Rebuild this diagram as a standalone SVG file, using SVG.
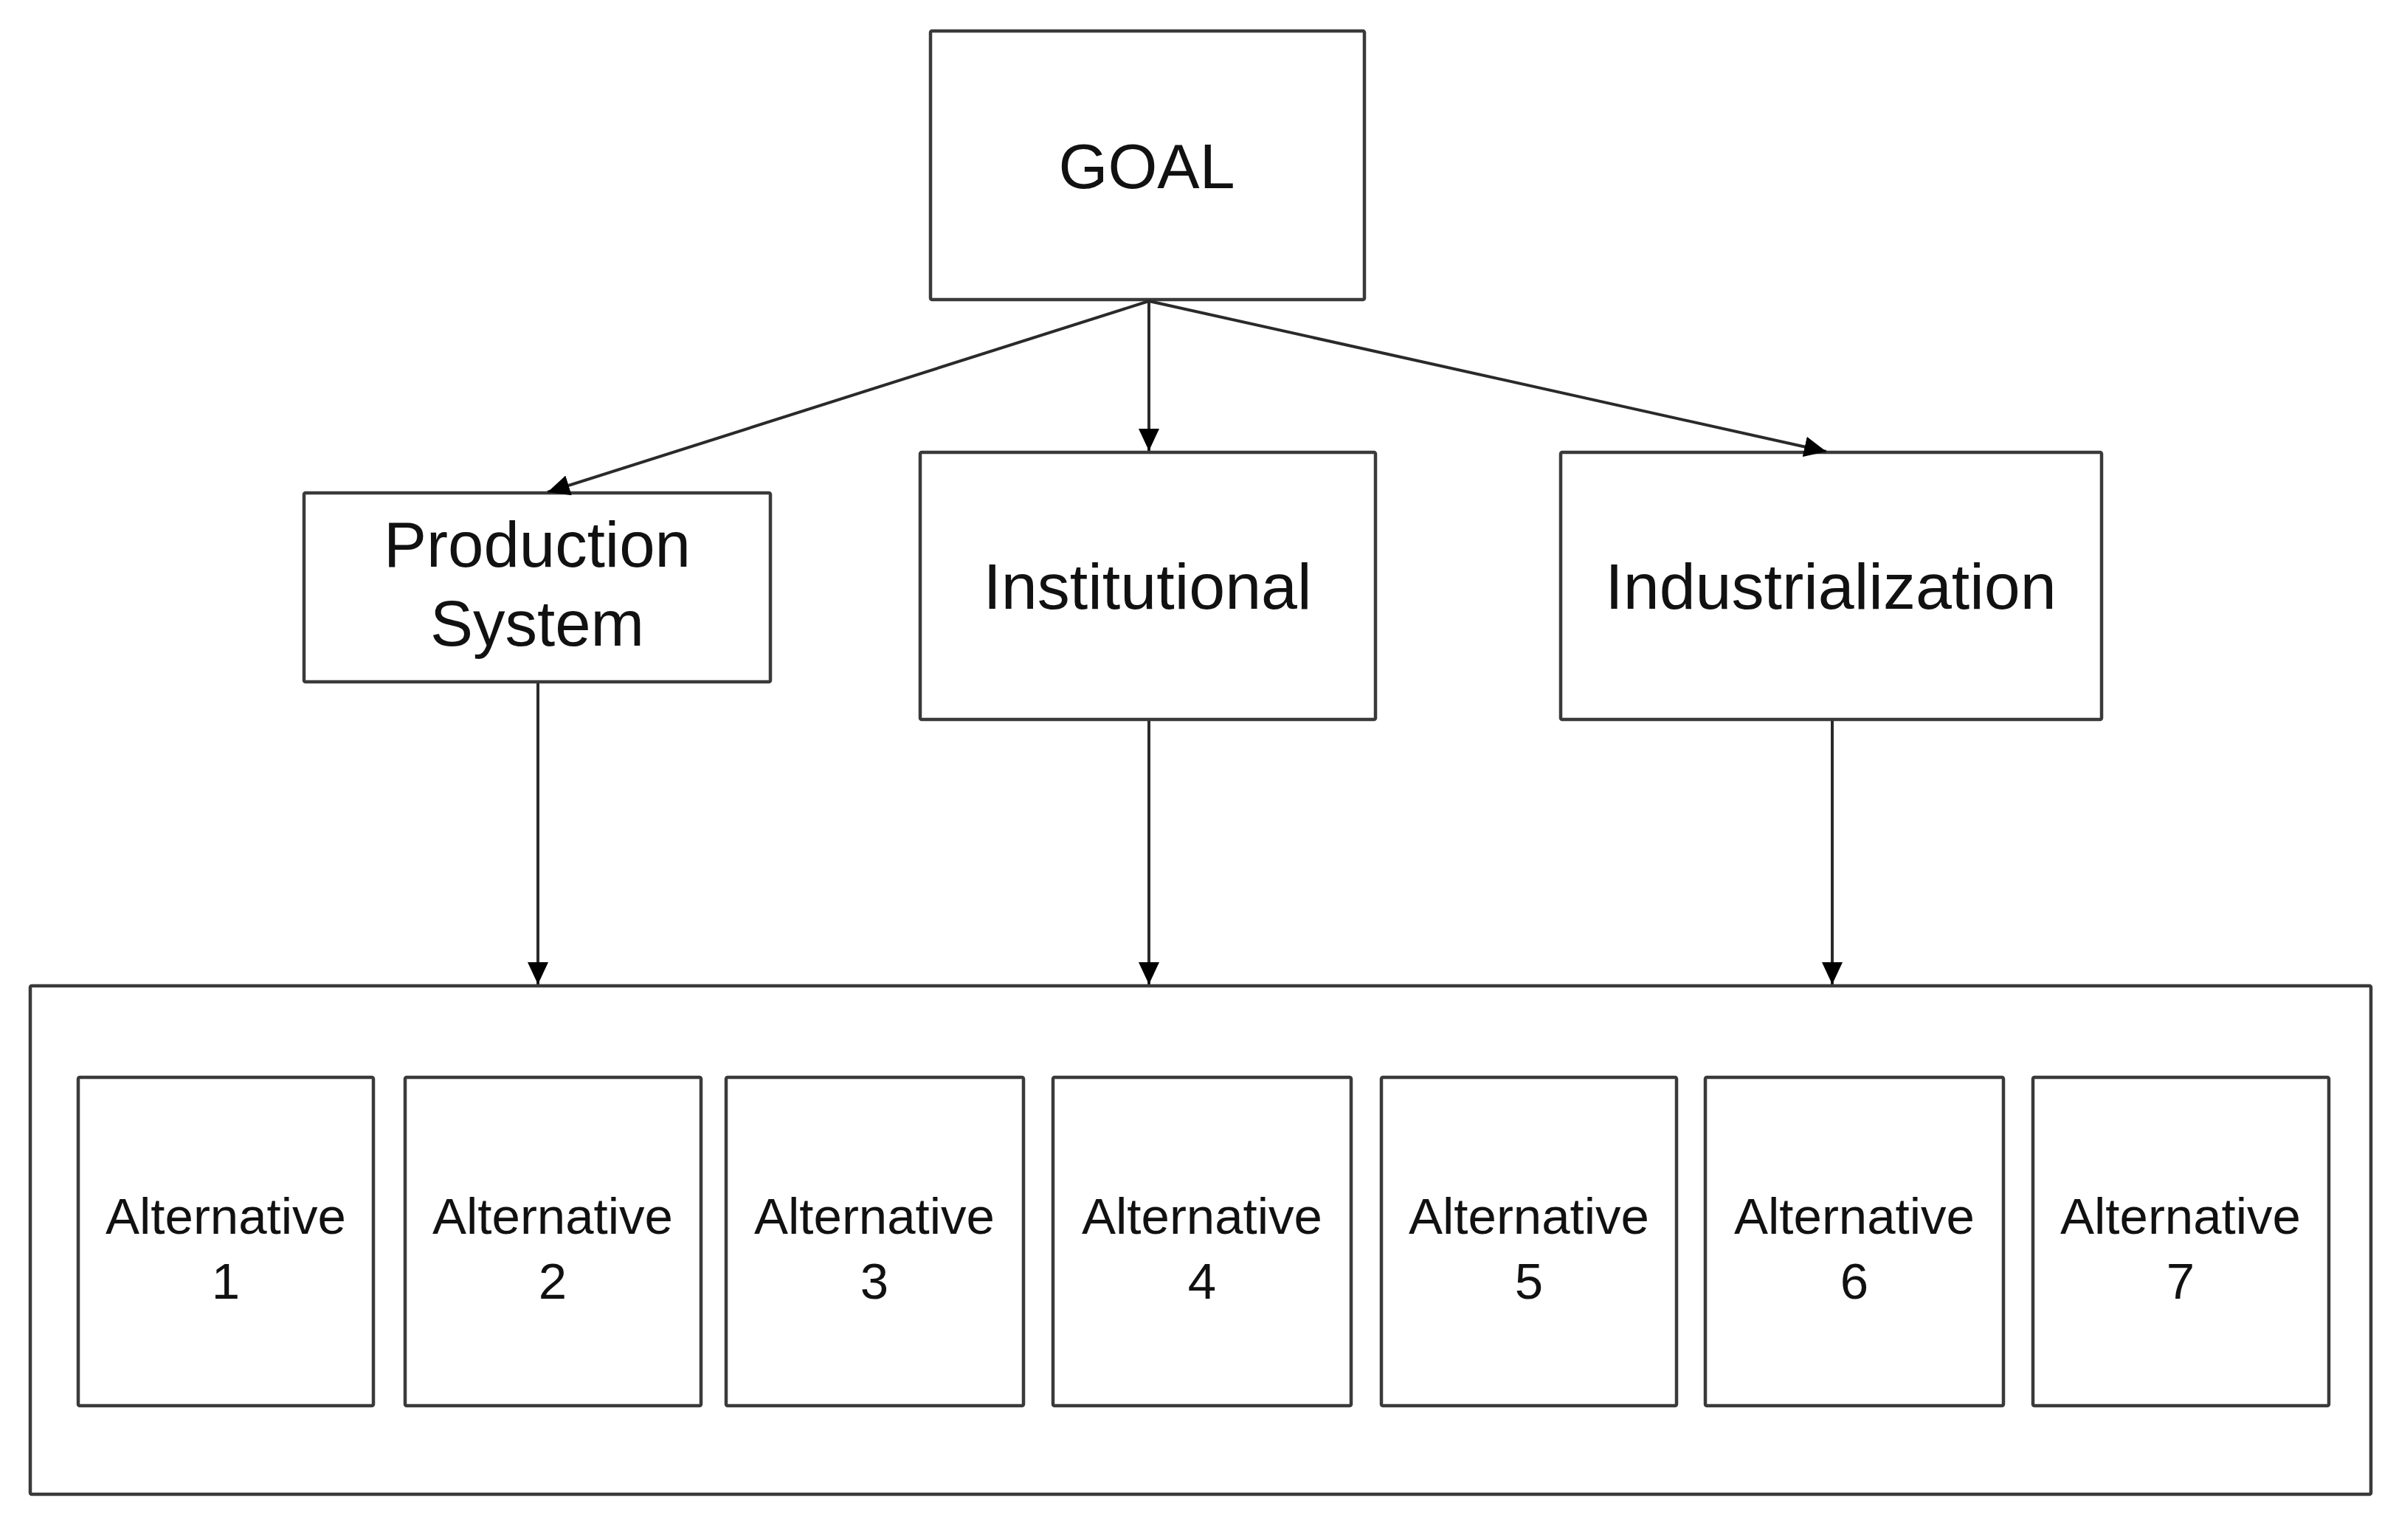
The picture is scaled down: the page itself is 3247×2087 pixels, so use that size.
<svg xmlns="http://www.w3.org/2000/svg" width="3247" height="2087" viewBox="0 0 3247 2087">
<style>
.box{fill:#ffffff;stroke:#3a3a3a;stroke-width:4.5}
.lbl{font-family:"Liberation Sans",Arial,sans-serif;fill:#111111;text-anchor:middle}
.big{font-size:87px}
.alt{font-size:69px}
.conn{stroke:#2a2a2a;stroke-width:4;fill:none;marker-end:url(#arrow)}
</style>
<defs>
<marker id="arrow" markerUnits="userSpaceOnUse" markerWidth="30" markerHeight="28" refX="30" refY="14" orient="auto">
<path d="M0,0 L30,14 L0,28 z" fill="#000000"/>
</marker>
</defs>
<rect x="0" y="0" width="3247" height="2087" fill="#ffffff"/>

<g id="container">
<rect class="box" x="41" y="1336" width="3172" height="689" rx="2"/>
</g>

<g id="goal">
<rect class="box" x="1261" y="42" width="588" height="364" rx="2"/>
<text class="lbl" x="1554" y="255" font-size="86">GOAL</text>
</g>

<g id="production-system">
<rect class="box" x="412" y="668" width="632" height="256" rx="2"/>
<text class="lbl big" x="728" y="768">Production</text>
<text class="lbl big" x="728" y="875">System</text>
</g>

<g id="institutional">
<rect class="box" x="1247" y="613" width="617" height="362" rx="2"/>
<text class="lbl" x="1555" y="825" font-size="88">Institutional</text>
</g>

<g id="industrialization">
<rect class="box" x="2115" y="613" width="733" height="362" rx="2"/>
<text class="lbl" x="2481" y="825" font-size="88">Industrialization</text>
</g>

<g id="alternative-1">
<rect class="box" x="106" y="1460" width="400" height="445" rx="2"/>
<text class="lbl alt" x="306" y="1672">Alternative</text>
<text class="lbl alt" x="306" y="1760">1</text>
</g>
<g id="alternative-2">
<rect class="box" x="549" y="1460" width="401" height="445" rx="2"/>
<text class="lbl alt" x="749" y="1672">Alternative</text>
<text class="lbl alt" x="749" y="1760">2</text>
</g>
<g id="alternative-3">
<rect class="box" x="984" y="1460" width="403" height="445" rx="2"/>
<text class="lbl alt" x="1185" y="1672">Alternative</text>
<text class="lbl alt" x="1185" y="1760">3</text>
</g>
<g id="alternative-4">
<rect class="box" x="1427" y="1460" width="404" height="445" rx="2"/>
<text class="lbl alt" x="1629" y="1672">Alternative</text>
<text class="lbl alt" x="1629" y="1760">4</text>
</g>
<g id="alternative-5">
<rect class="box" x="1872" y="1460" width="400" height="445" rx="2"/>
<text class="lbl alt" x="2072" y="1672">Alternative</text>
<text class="lbl alt" x="2072" y="1760">5</text>
</g>
<g id="alternative-6">
<rect class="box" x="2311" y="1460" width="404" height="445" rx="2"/>
<text class="lbl alt" x="2513" y="1672">Alternative</text>
<text class="lbl alt" x="2513" y="1760">6</text>
</g>
<g id="alternative-7">
<rect class="box" x="2755" y="1460" width="401" height="445" rx="2"/>
<text class="lbl alt" x="2955" y="1672">Alternative</text>
<text class="lbl alt" x="2955" y="1760">7</text>
</g>

<g id="connectors">
<line class="conn" x1="1557" y1="408" x2="742" y2="667"/>
<line class="conn" x1="1557" y1="408" x2="1557" y2="611"/>
<line class="conn" x1="1557" y1="408" x2="2475" y2="612"/>
<line class="conn" x1="729" y1="926" x2="729" y2="1334"/>
<line class="conn" x1="1557" y1="977" x2="1557" y2="1334"/>
<line class="conn" x1="2483" y1="977" x2="2483" y2="1334"/>
</g>
</svg>
